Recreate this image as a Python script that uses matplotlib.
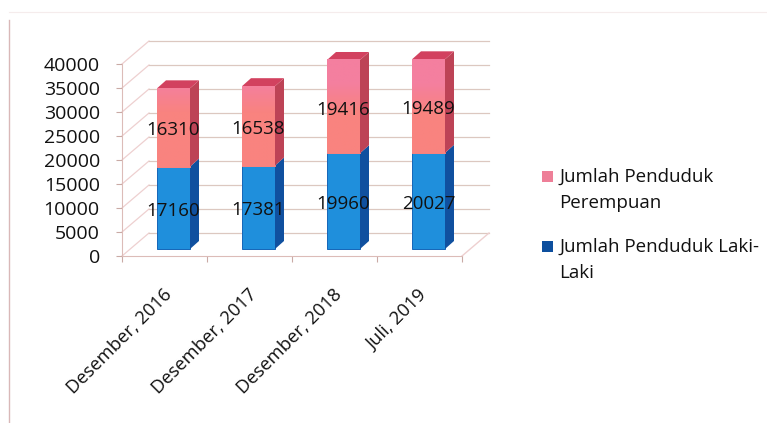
import matplotlib
matplotlib.use("Agg")
import matplotlib.pyplot as plt
import numpy as np
from matplotlib.patches import Polygon, Rectangle
from matplotlib.lines import Line2D
from matplotlib.colors import LinearSegmentedColormap

plt.rcParams['font.family'] = ['Open Sans', 'DejaVu Sans']

categories = ["Desember, 2016", "Desember, 2017", "Desember, 2018", "Juli, 2019"]
laki = [17160, 17381, 19960, 20027]
perempuan = [16310, 16538, 19416, 19489]
yticks = [0, 5000, 10000, 15000, 20000, 25000, 30000, 35000, 40000]

W, H = 767, 423
fig = plt.figure(figsize=(W / 100, H / 100), dpi=100)
ax = fig.add_axes([122 / W, 1 - 256 / H, 340 / W, 192 / H])

# pixel sizes turned into data units for the fake 3d depth
px_x = 4 / 340
px_y = 40000 / 192
wall_dx, wall_dy = 27 * px_x, 23 * px_y
bar_dx, bar_dy = 9 * px_x, 7 * px_y
depth_dx, depth_dy = 9 * px_x, 8 * px_y
bar_w = 33 * px_x
label_dy = -3 * px_y

grid_col = "#dcc8c0"
diag_col = "#eed0d0"

# red goes pink near the top of the chart
red_grad = LinearSegmentedColormap.from_list(
    "red_grad", [(0, "#f9837f"), (0.75, "#f9837f"), (0.9, "#f47f9f"), (1, "#f47f9f")])

# back wall and left wall lines
for v in yticks:
    ax.plot([-0.5, -0.5 + wall_dx], [v, v + wall_dy], color=diag_col, lw=0.9, clip_on=False, zorder=1)
    ax.plot([-0.5 + wall_dx, 3.5 + wall_dx], [v + wall_dy, v + wall_dy], color=grid_col, lw=0.9, clip_on=False, zorder=1)
ax.plot([3.5, 3.5 + wall_dx], [0, wall_dy], color=diag_col, lw=1.0, clip_on=False, zorder=1)


def draw_stack(x, bottom, val, front, edge, side):
    x0 = x + bar_dx
    b = bottom + bar_dy
    t = b + val
    bars = ax.bar(x0, val, bar_w, bottom=b, color=front, edgecolor=edge, lw=0.7, clip_on=False, zorder=3)
    r = x0 + bar_w / 2
    ax.add_patch(Polygon([(r, b), (r + depth_dx, b + depth_dy), (r + depth_dx, t + depth_dy), (r, t)],
                         color=side, lw=0, clip_on=False, zorder=3))
    return bars[0], r, b, t


for i in range(len(categories)):
    draw_stack(i, 0, laki[i], "#1f8fdc", "#1565b8", "#10509f")
    bar, r, b, t = draw_stack(i, laki[i], perempuan[i], "#f9837f", "#f9837f", "#bd4356")
    l = r - bar_w
    im = ax.imshow(np.linspace(t, b, 60).reshape(-1, 1), cmap=red_grad, vmin=0, vmax=40000,
                   extent=(l, r, b, t), aspect="auto", zorder=3.5, clip_on=False)
    ax.add_patch(Polygon([(l, t), (l + depth_dx, t + depth_dy), (r + depth_dx, t + depth_dy), (r, t)],
                         color="#d2415f", lw=0, clip_on=False, zorder=3))
    ax.text(i + bar_dx, laki[i] / 2 + bar_dy + label_dy, str(laki[i]), ha="center", va="center",
            fontsize=13.5, color="#111111", zorder=5)
    ax.text(i + bar_dx, laki[i] + perempuan[i] / 2 + bar_dy + label_dy, str(perempuan[i]), ha="center", va="center",
            fontsize=13.5, color="#111111", zorder=5)

ax.set_xlim(-0.5, 3.5)
ax.set_ylim(0, 40000)
for s in ["top", "right"]:
    ax.spines[s].set_visible(False)
for s in ["left", "bottom"]:
    ax.spines[s].set_color("#dcbcb8")
ax.set_yticks(yticks)
ax.set_yticklabels([str(v) for v in yticks], fontsize=14, color="#111111")
ax.set_xticks([-0.5, 0.5, 1.5, 2.5, 3.5])
ax.set_xticklabels([])
ax.tick_params(axis="both", color="#c9aaa5", length=4)
ax.tick_params(axis="y", pad=12, length=4)

for i, c in enumerate(categories):
    ax.annotate(c, (i, 0), xytext=(-2, -30), textcoords="offset pixels", rotation=45, ha="right", va="top",
                rotation_mode="anchor", fontsize=13.2, color="#111111", annotation_clip=False)

# legend by hand, the swatch sits on the first text line
legend_items = [("Jumlah Penduduk\nPerempuan", "#ee7f98", 176), ("Jumlah Penduduk Laki-\nLaki", "#0d4f9e", 246)]
for label, col, ypx in legend_items:
    fig.add_artist(Rectangle((542 / W, 1 - (ypx + 6) / H), 11 / W, 11 / H, facecolor=col, edgecolor="none",
                             transform=fig.transFigure))
    fig.text(559 / W, 1 - (ypx - 8) / H, label, fontsize=13.5, color="#111111", va="top", ha="left", linespacing=1.55)

# page border left over from the scan
fig.add_artist(Line2D([9 / W, 9 / W], [1 - 20 / H, 1 - 423 / H], color="#d9b8b8", lw=1.0))
fig.add_artist(Line2D([9 / W, 767 / W], [1 - 12 / H, 1 - 12 / H], color="#f5ecec", lw=0.8))

fig.savefig("out.png", dpi=100)
